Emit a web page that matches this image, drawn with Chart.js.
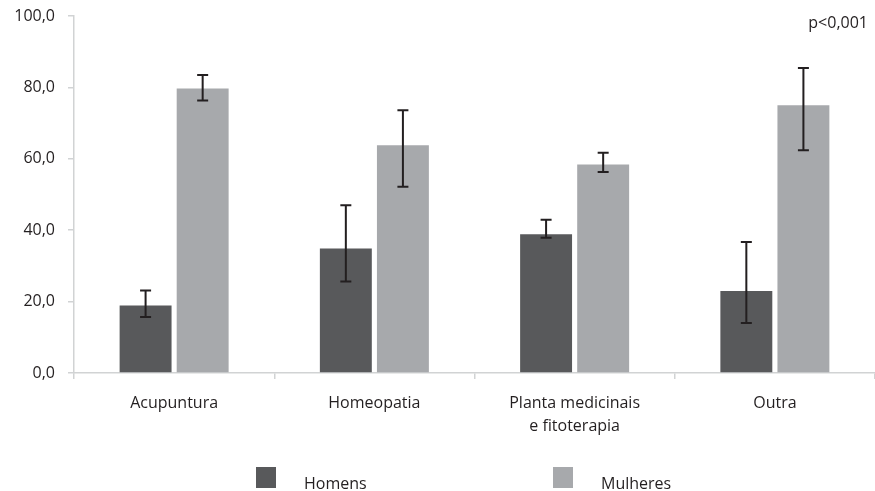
<!DOCTYPE html>
<html>
<head>
<meta charset="utf-8">
<script src="https://cdn.jsdelivr.net/npm/chart.js@4.4.0/dist/chart.umd.min.js"></script>
<style>
  html, body { margin: 0; padding: 0; background: #ffffff; }
  #wrap { width: 875px; height: 491px; position: relative; }
</style>
</head>
<body>
<div id="wrap"><canvas id="chart"></canvas></div>
<script>
const categories = ['Acupuntura', 'Homeopatia', ['Planta medicinais', 'e fitoterapia'], 'Outra'];
const homens = [18.9, 34.9, 38.9, 23.0];
const homensLow = [15.7, 25.6, 37.9, 14.0];
const homensHigh = [23.1, 47.0, 42.9, 36.7];
const mulheres = [79.7, 63.8, 58.4, 75.0];
const mulheresLow = [76.3, 52.2, 56.3, 62.4];
const mulheresHigh = [83.5, 73.6, 61.7, 85.4];
const yTicks = [0, 20, 40, 60, 80, 100];
const pLabel = 'p<0,001';

const textColor = '#231f20';
const axisColor = '#d1d3d4';
const fontFamily = '"Open Sans", sans-serif';

// error bars drawn on top of each bar
const errorBars = {
    id: 'errorBars',
    afterDatasetsDraw(chart) {
        const ctx = chart.ctx;
        const y = chart.scales.y;
        chart.data.datasets.forEach((ds, di) => {
            const meta = chart.getDatasetMeta(di);
            meta.data.forEach((bar, i) => {
                const top = y.getPixelForValue(ds.errHigh[i]);
                const bottom = y.getPixelForValue(ds.errLow[i]);
                ctx.save();
                ctx.strokeStyle = textColor;
                ctx.lineWidth = 2;
                ctx.beginPath();
                ctx.moveTo(bar.x, top);
                ctx.lineTo(bar.x, bottom);
                ctx.moveTo(bar.x - 5.5, top);
                ctx.lineTo(bar.x + 5.5, top);
                ctx.moveTo(bar.x - 5.5, bottom);
                ctx.lineTo(bar.x + 5.5, bottom);
                ctx.stroke();
                ctx.restore();
            });
        });
    }
};

// legend at the bottom and p value at top right
const extras = {
    id: 'extras',
    afterDraw(chart) {
        const ctx = chart.ctx;
        ctx.save();
        ctx.font = '16px ' + fontFamily;
        ctx.fillStyle = textColor;
        ctx.textAlign = 'right';
        ctx.textBaseline = 'alphabetic';
        ctx.fillText(pLabel, 868, 28);

        const boxX = [256, 553];
        chart.data.datasets.forEach((ds, i) => {
            ctx.fillStyle = ds.backgroundColor;
            ctx.fillRect(boxX[i], 467, 20, 21);
            ctx.fillStyle = textColor;
            ctx.textAlign = 'left';
            ctx.fillText(ds.label, boxX[i] + 48, 489);
        });
        ctx.restore();
    }
};

new Chart(document.getElementById('chart').getContext('2d'), {
    type: 'bar',
    data: {
        labels: categories,
        datasets: [
            {
                label: 'Homens',
                data: homens,
                errLow: homensLow,
                errHigh: homensHigh,
                backgroundColor: '#58595b'
            },
            {
                label: 'Mulheres',
                data: mulheres,
                errLow: mulheresLow,
                errHigh: mulheresHigh,
                backgroundColor: '#a7a9ac'
            }
        ]
    },
    options: {
        responsive: true,
        maintainAspectRatio: false,
        animation: false,
        categoryPercentage: 0.57,
        barPercentage: 0.91,
        layout: { padding: { top: 16, right: -6, bottom: 0, left: 0 } },
        plugins: {
            legend: { display: false },
            tooltip: { enabled: false }
        },
        scales: {
            x: {
                afterFit: scale => { scale.height = 118; },
                grid: {
                    display: true,
                    drawOnChartArea: false,
                    drawTicks: true,
                    tickLength: 6,
                    color: axisColor,
                    lineWidth: 1.5
                },
                border: { color: axisColor, width: 1.5 },
                ticks: {
                    color: textColor,
                    padding: 13,
                    maxRotation: 0,
                    font: { family: fontFamily, size: 16, lineHeight: 1.45 }
                }
            },
            y: {
                min: 0,
                max: 100,
                afterFit: scale => {
                    scale.width = 74;
                    scale.paddingTop = 4;
                    scale.paddingBottom = 4;
                },
                afterBuildTicks: scale => { scale.ticks = yTicks.map(v => ({ value: v })); },
                grid: {
                    display: true,
                    drawOnChartArea: false,
                    drawTicks: true,
                    tickLength: 6,
                    color: axisColor,
                    lineWidth: 1.5
                },
                border: { color: axisColor, width: 1.5 },
                ticks: {
                    color: textColor,
                    padding: 13,
                    font: { family: fontFamily, size: 16 },
                    callback: v => v.toFixed(1).replace('.', ',')
                }
            }
        }
    },
    plugins: [errorBars, extras]
});
</script>
</body>
</html>
